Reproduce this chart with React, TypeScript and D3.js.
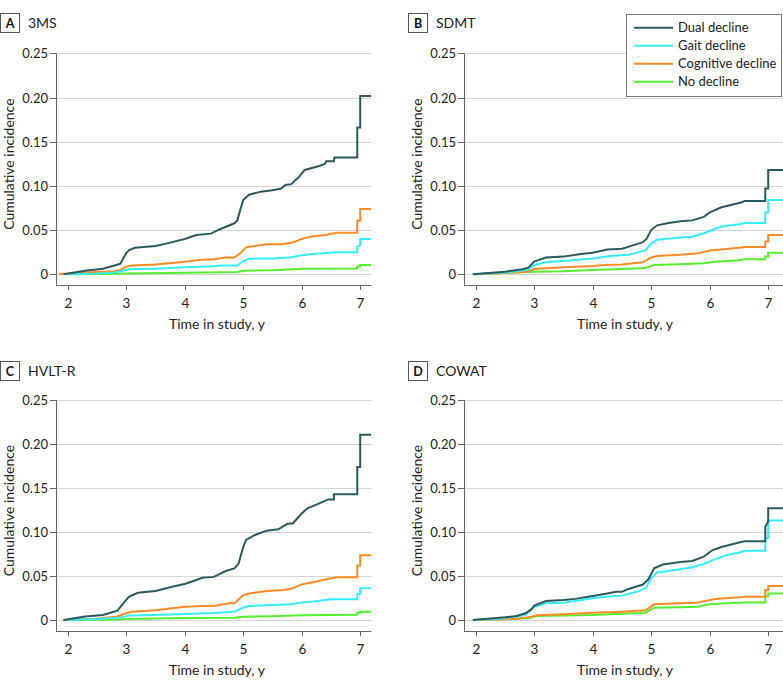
import React, { useEffect, useRef } from "react";
import * as d3 from "d3";

type Pt = [number, number];

const seriesNames = ["Dual decline", "Gait decline", "Cognitive decline", "No decline"];
const seriesColors = ["#2b5a5e", "#33eef6", "#ff8a24", "#55ee2e"];
const yTicks = [0, 0.05, 0.1, 0.15, 0.2, 0.25];
const yTickLabels = ["0", "0.05", "0.10", "0.15", "0.20", "0.25"];
const xTicks = [2, 3, 4, 5, 6, 7];

// Panel A: 3MS
const a_dual: Pt[] = [[1.93,0],[2.3,0.004],[2.6,0.0064],[2.8,0.010],[2.9,0.012],[3.0,0.024],[3.05,0.0275],[3.15,0.030],[3.5,0.032],[3.7,0.035],[4.0,0.040],[4.2,0.0445],[4.45,0.046],[4.6,0.051],[4.85,0.0577],[4.9,0.061],[4.95,0.073],[5.0,0.084],[5.1,0.090],[5.3,0.0935],[5.5,0.095],[5.65,0.097],[5.72,0.101],[5.82,0.102],[5.95,0.110],[6.05,0.118],[6.3,0.1225],[6.4,0.125],[6.42,0.128],[6.55,0.128],[6.56,0.132],[6.95,0.132],[6.95,0.166],[7.0,0.166],[7.0,0.2017],[7.19,0.2017]];
const a_gait: Pt[] = [[2.0,0],[2.5,0.0008],[2.8,0.002],[2.95,0.004],[3.05,0.0057],[3.5,0.0064],[4.0,0.008],[4.5,0.009],[4.6,0.010],[4.9,0.010],[5.0,0.0147],[5.1,0.0177],[5.5,0.018],[5.8,0.019],[6.0,0.0215],[6.2,0.023],[6.6,0.025],[6.95,0.025],[6.95,0.031],[7.0,0.033],[7.0,0.040],[7.19,0.040]];
const a_cog: Pt[] = [[1.85,0],[2.3,0.002],[2.8,0.0034],[2.9,0.005],[3.0,0.0087],[3.1,0.010],[3.5,0.011],[4.0,0.0143],[4.3,0.0166],[4.5,0.017],[4.7,0.019],[4.85,0.019],[4.95,0.0238],[5.05,0.0305],[5.2,0.032],[5.4,0.034],[5.65,0.034],[5.85,0.036],[6.0,0.040],[6.15,0.0426],[6.4,0.0445],[6.6,0.047],[6.95,0.047],[6.95,0.0607],[7.0,0.0607],[7.0,0.0739],[7.19,0.0739]];
const a_none: Pt[] = [[2.0,0],[2.9,0.0005],[3.0,0.001],[4.0,0.0017],[4.9,0.0025],[5.0,0.004],[5.5,0.0045],[6.0,0.0062],[6.95,0.0065],[6.95,0.0087],[7.0,0.0087],[7.0,0.0105],[7.19,0.0105]];

// Panel B: SDMT
const b_dual: Pt[] = [[1.95,0],[2.5,0.003],[2.8,0.0057],[2.9,0.0075],[3.0,0.0143],[3.2,0.0189],[3.5,0.020],[3.8,0.023],[4.0,0.0245],[4.25,0.028],[4.5,0.029],[4.7,0.033],[4.85,0.036],[4.92,0.040],[5.0,0.050],[5.1,0.0554],[5.3,0.058],[5.5,0.060],[5.7,0.061],[5.9,0.065],[6.0,0.070],[6.2,0.0758],[6.4,0.079],[6.55,0.0815],[6.6,0.083],[6.95,0.083],[6.95,0.097],[7.0,0.097],[7.0,0.118],[7.3,0.118]];
const b_gait: Pt[] = [[2.0,0],[2.5,0.002],[2.9,0.005],[3.0,0.0106],[3.2,0.0136],[3.6,0.0155],[4.0,0.018],[4.3,0.0207],[4.6,0.022],[4.9,0.027],[5.0,0.035],[5.1,0.039],[5.5,0.0415],[5.7,0.0426],[5.9,0.0464],[6.0,0.049],[6.2,0.054],[6.5,0.0566],[6.6,0.058],[6.95,0.058],[6.95,0.070],[7.0,0.070],[7.0,0.084],[7.3,0.084]];
const b_cog: Pt[] = [[2.0,0],[2.5,0.0015],[2.9,0.003],[3.0,0.006],[3.5,0.008],[4.0,0.0094],[4.2,0.0106],[4.5,0.011],[4.85,0.0136],[5.0,0.019],[5.1,0.0207],[5.5,0.022],[5.8,0.0237],[6.0,0.027],[6.2,0.028],[6.5,0.030],[6.6,0.031],[6.95,0.031],[6.95,0.037],[7.0,0.037],[7.0,0.0445],[7.3,0.0445]];
const b_none: Pt[] = [[2.0,0],[3.0,0.003],[3.5,0.0035],[4.0,0.005],[4.5,0.006],[4.9,0.007],[5.05,0.0106],[5.5,0.0113],[5.9,0.0124],[6.1,0.0143],[6.5,0.016],[6.6,0.017],[6.95,0.017],[6.95,0.020],[7.0,0.020],[7.0,0.0245],[7.3,0.0245]];

// Panel C: HVLT-R
const c_dual: Pt[] = [[1.93,0],[2.3,0.004],[2.6,0.0057],[2.7,0.0076],[2.85,0.0106],[2.95,0.019],[3.05,0.0265],[3.2,0.031],[3.5,0.033],[3.8,0.038],[4.0,0.041],[4.2,0.0455],[4.3,0.048],[4.5,0.049],[4.7,0.0557],[4.85,0.0587],[4.92,0.064],[5.0,0.083],[5.05,0.091],[5.2,0.0966],[5.4,0.1015],[5.6,0.103],[5.75,0.109],[5.85,0.110],[6.0,0.121],[6.1,0.127],[6.3,0.1326],[6.45,0.137],[6.55,0.137],[6.55,0.143],[6.95,0.143],[6.95,0.174],[7.0,0.174],[7.0,0.2106],[7.19,0.2106]];
const c_gait: Pt[] = [[2.0,0],[2.5,0.001],[2.9,0.0027],[3.05,0.005],[3.5,0.0057],[4.0,0.0068],[4.5,0.008],[4.85,0.0095],[5.0,0.014],[5.1,0.016],[5.5,0.017],[5.8,0.018],[6.0,0.020],[6.2,0.021],[6.5,0.0235],[6.95,0.0235],[6.95,0.0295],[7.0,0.0295],[7.0,0.036],[7.19,0.036]];
const c_cog: Pt[] = [[1.92,0],[2.5,0.0015],[2.85,0.004],[3.0,0.0076],[3.1,0.0095],[3.5,0.011],[4.0,0.015],[4.3,0.016],[4.5,0.016],[4.75,0.019],[4.85,0.019],[5.0,0.028],[5.1,0.030],[5.4,0.033],[5.7,0.034],[5.85,0.036],[6.0,0.0405],[6.2,0.043],[6.4,0.046],[6.6,0.0485],[6.95,0.0485],[6.95,0.062],[7.0,0.062],[7.0,0.0735],[7.19,0.0735]];
const c_none: Pt[] = [[2.0,0],[2.9,0.0005],[3.0,0.0011],[4.0,0.0023],[4.85,0.0025],[5.0,0.0038],[5.5,0.0042],[6.0,0.0053],[6.95,0.006],[6.95,0.0083],[7.0,0.0083],[7.0,0.0095],[7.19,0.0095]];

// Panel D: COWAT
const d_dual: Pt[] = [[1.95,0],[2.5,0.003],[2.7,0.0045],[2.85,0.0076],[2.95,0.012],[3.0,0.0163],[3.2,0.0216],[3.5,0.0227],[3.7,0.024],[4.0,0.0273],[4.2,0.0295],[4.4,0.032],[4.5,0.032],[4.6,0.035],[4.75,0.038],[4.85,0.040],[4.95,0.046],[5.05,0.0587],[5.2,0.063],[5.5,0.066],[5.7,0.067],[5.9,0.072],[6.05,0.0795],[6.2,0.083],[6.5,0.088],[6.6,0.0894],[6.95,0.0894],[6.95,0.106],[7.0,0.112],[7.0,0.127],[7.3,0.127]];
const d_gait: Pt[] = [[2.0,0],[2.5,0.002],[2.85,0.0057],[3.0,0.015],[3.2,0.019],[3.5,0.0197],[4.0,0.0246],[4.3,0.027],[4.5,0.0277],[4.8,0.033],[4.9,0.036],[5.0,0.047],[5.1,0.054],[5.5,0.0576],[5.7,0.060],[5.9,0.0636],[6.05,0.068],[6.3,0.074],[6.5,0.0765],[6.6,0.0788],[6.95,0.0788],[6.95,0.093],[7.0,0.093],[7.0,0.113],[7.3,0.113]];
const d_cog: Pt[] = [[2.0,0],[2.7,0.0015],[2.9,0.003],[3.05,0.0053],[3.5,0.0064],[4.0,0.0083],[4.5,0.0095],[4.9,0.011],[5.05,0.0178],[5.5,0.019],[5.8,0.020],[6.1,0.024],[6.5,0.0258],[6.6,0.0265],[6.95,0.0265],[6.95,0.034],[7.0,0.034],[7.0,0.0386],[7.3,0.0386]];
const d_none: Pt[] = [[2.0,0],[2.9,0.002],[3.05,0.0045],[4.0,0.0057],[4.9,0.0083],[5.05,0.014],[5.5,0.0145],[5.8,0.015],[6.0,0.0178],[6.5,0.0197],[6.6,0.020],[6.95,0.020],[6.95,0.027],[7.0,0.027],[7.0,0.030],[7.3,0.030]];

const panelLetters = ["A", "B", "C", "D"];
const panelTitles = ["3MS", "SDMT", "HVLT-R", "COWAT"];
const panelData: Pt[][][] = [
  [a_dual, a_gait, a_cog, a_none],
  [b_dual, b_gait, b_cog, b_none],
  [c_dual, c_gait, c_cog, c_none],
  [d_dual, d_gait, d_cog, d_none],
];

const W = 783;
const H = 688;
const FONT = "Lato, 'Open Sans', sans-serif";

export default function App() {
  const ref = useRef<SVGSVGElement>(null);

  useEffect(() => {
    const svg = d3.select(ref.current);
    svg.selectAll("*").remove();

    const layouts = [
      { ox: 0, top: 53.3, zero: 274.3, axisY: 285 },
      { ox: 408, top: 53.3, zero: 274.3, axisY: 285 },
      { ox: 0, top: 400, zero: 620, axisY: 631 },
      { ox: 408, top: 400, zero: 620, axisY: 631 },
    ];

    layouts.forEach((L, i) => {
      const g = svg.append("g");
      const left = L.ox + 56;
      const perYear = 58.5;
      const x0 = left;
      const x = d3.scaleLinear().domain([2, 7]).range([x0 + 0.2 * perYear, x0 + 5.2 * perYear]);
      const right = i % 2 === 0 ? x(7.19) : W;
      const y = d3.scaleLinear().domain([0, 0.25]).range([L.zero, L.top]);

      // badge
      const badgeY = i < 2 ? 13 : 361;
      const bx = i % 2 === 0 ? 0.5 : 408.5;
      g.append("rect").attr("x", bx).attr("y", badgeY + 0.5).attr("width", 19).attr("height", 19)
        .attr("fill", "white").attr("stroke", "#555").attr("stroke-width", 1);
      g.append("text").attr("x", bx + 9.5).attr("y", badgeY + 14.5).attr("text-anchor", "middle")
        .attr("font-family", FONT).attr("font-weight", "bold").attr("font-size", 12.5).attr("fill", "#111")
        .text(panelLetters[i]);
      g.append("text").attr("x", bx + 27.5).attr("y", badgeY + 15)
        .attr("font-family", FONT).attr("font-size", 14).attr("fill", "#222")
        .text(panelTitles[i]);

      // gridlines
      g.selectAll(".grid").data(yTicks).enter().append("line")
        .attr("x1", left).attr("x2", right)
        .attr("y1", (d) => Math.round(y(d)) + 0.5).attr("y2", (d) => Math.round(y(d)) + 0.5)
        .attr("stroke", "#d4d4d4").attr("stroke-width", 1);

      // axes
      g.append("line").attr("x1", left + 0.5).attr("x2", left + 0.5).attr("y1", L.top).attr("y2", L.axisY)
        .attr("stroke", "#666");
      g.append("line").attr("x1", left).attr("x2", right).attr("y1", L.axisY + 0.5).attr("y2", L.axisY + 0.5)
        .attr("stroke", "#666");

      // y ticks
      yTicks.forEach((t, k) => {
        const yy = Math.round(y(t)) + 0.5;
        g.append("line").attr("x1", left - 6).attr("x2", left).attr("y1", yy).attr("y2", yy).attr("stroke", "#666");
        g.append("text").attr("x", left - 8).attr("y", yy + 4.5).attr("text-anchor", "end")
          .attr("font-family", FONT).attr("font-size", 13).attr("fill", "#222").text(yTickLabels[k]);
      });
      // x ticks
      xTicks.forEach((t) => {
        const xx = Math.round(x(t)) + 0.5;
        g.append("line").attr("x1", xx).attr("x2", xx).attr("y1", L.axisY).attr("y2", L.axisY + 5).attr("stroke", "#666");
        g.append("text").attr("x", xx).attr("y", L.axisY + 23).attr("text-anchor", "middle")
          .attr("font-family", FONT).attr("font-size", 13.5).attr("fill", "#222").text(String(t));
      });

      // axis titles
      g.append("text").attr("x", (x(2) + x(7)) / 2 + 3).attr("y", L.axisY + 44).attr("text-anchor", "middle")
        .attr("font-family", FONT).attr("font-size", 14).attr("fill", "#222").text("Time in study, y");
      const ty = (L.top + L.axisY) / 2 - 5;
      g.append("text").attr("transform", `translate(${L.ox + 13.5},${ty}) rotate(-90)`).attr("text-anchor", "middle")
        .attr("font-family", FONT).attr("font-size", 14).attr("fill", "#222").text("Cumulative incidence");

      // lines
      const line = d3.line<Pt>().x((d) => x(d[0])).y((d) => y(d[1]));
      const clipId = `clip${i}`;
      svg.append("clipPath").attr("id", clipId).append("rect")
        .attr("x", left).attr("y", L.top - 5).attr("width", right - left).attr("height", L.axisY - L.top + 5);
      const series = panelData[i];
      for (let s = series.length - 1; s >= 0; s--) {
        g.append("path").datum(series[s]).attr("d", line).attr("fill", "none")
          .attr("stroke", seriesColors[s]).attr("stroke-width", 2).attr("stroke-linejoin", "miter")
          .attr("clip-path", `url(#${clipId})`);
      }
    });

    // legend
    const lg = svg.append("g");
    lg.append("rect").attr("x", 626.5).attr("y", 14.5).attr("width", 155).attr("height", 82)
      .attr("fill", "white").attr("stroke", "#777").attr("stroke-width", 1);
    seriesNames.forEach((n, k) => {
      const yy = 27.7 + k * 18;
      lg.append("line").attr("x1", 634).attr("x2", 673).attr("y1", yy).attr("y2", yy)
        .attr("stroke", seriesColors[k]).attr("stroke-width", 2);
      lg.append("text").attr("x", 678).attr("y", yy + 4.5).attr("font-family", FONT).attr("font-size", 13)
        .attr("fill", "#222").text(n);
    });
  }, []);

  return (
    <svg ref={ref} width={W} height={H} style={{ display: "block", position: "absolute", left: 0, top: 0 }} />
  );
}
